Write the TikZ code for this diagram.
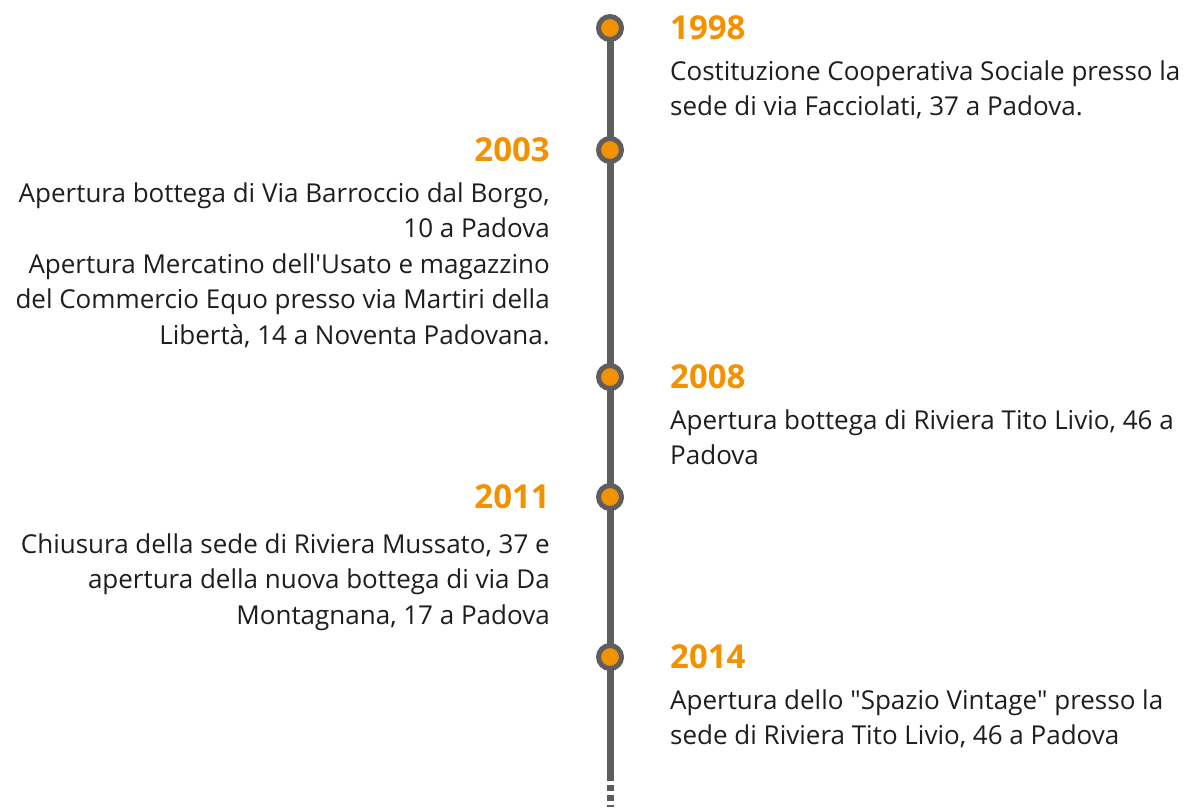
\documentclass[tikz,border=0pt]{standalone}
\usepackage{fontspec}
\setmainfont{Open Sans}
\usetikzlibrary{positioning,backgrounds}
\definecolor{tlorange}{RGB}{243,146,0}
\definecolor{tlgray}{RGB}{94,94,94}
\definecolor{tltext}{RGB}{30,30,30}

\begin{document}
\begin{tikzpicture}[x=1pt,y=-1pt,node distance=46pt,
dot/.style={circle,fill=tlorange,draw=tlgray,line width=5pt,minimum size=23pt,inner sep=0pt},
year/.style={font=\fontsize{33}{36}\selectfont\bfseries,text=tlorange,inner sep=0pt},
event/.style={font=\fontsize{26}{35.5}\selectfont,text=tltext,inner sep=0pt}
]
\useasboundingbox (0,0) rectangle (1187,807);

% dots on the time line
\node[dot] (d1998) at (610,28) {};
\node[dot] (d2003) at (610,150) {};
\node[dot] (d2008) at (610,377) {};
\node[dot] (d2011) at (610,497) {};
\node[dot] (d2014) at (610,657) {};
\coordinate (lineend) at (610,775);
\coordinate (linefoot) at (610,807);

% years
\node[year,anchor=west] (y1998) [right=of d1998] {1998};
\node[year,anchor=east] (y2003) [left=of d2003] {2003};
\node[year,anchor=west] (y2008) [right=of d2008] {2008};
\node[year,anchor=east] (y2011) [left=of d2011] {2011};
\node[year,anchor=west] (y2014) [right=of d2014] {2014};

% events
\node[event,align=left] (e1998) [below right=20pt and 0pt of y1998.south west]
  {Costituzione Cooperativa Sociale presso la\\sede di via Facciolati, 37 a Padova.};
\node[event,align=right] (e2003) [below left=20pt and 0pt of y2003.south east]
  {Apertura bottega di Via Barroccio dal Borgo,\\10 a Padova\\Apertura Mercatino dell\textquotesingle Usato e magazzino\\del Commercio Equo presso via Martiri della\\Libertà, 14 a Noventa Padovana.};
\node[event,align=left] (e2008) [below right=20pt and 0pt of y2008.south west]
  {Apertura bottega di Riviera Tito Livio, 46 a\\Padova};
\node[event,align=right] (e2011) [below left=24pt and 0pt of y2011.south east]
  {Chiusura della sede di Riviera Mussato, 37 e\\apertura della nuova bottega di via Da\\Montagnana, 17 a Padova};
\node[event,align=left] (e2014) [below right=20pt and 0pt of y2014.south west]
  {Apertura dello \textquotedbl Spazio Vintage\textquotedbl{} presso la\\sede di Riviera Tito Livio, 46 a Padova};

\begin{scope}[on background layer]
\draw[tlgray,line width=7pt] (d1998.center) -- (lineend);
\draw[tlgray,line width=7pt,dash pattern=on 6pt off 4pt] (lineend) -- (linefoot);
\end{scope}
\end{tikzpicture}
\end{document}
